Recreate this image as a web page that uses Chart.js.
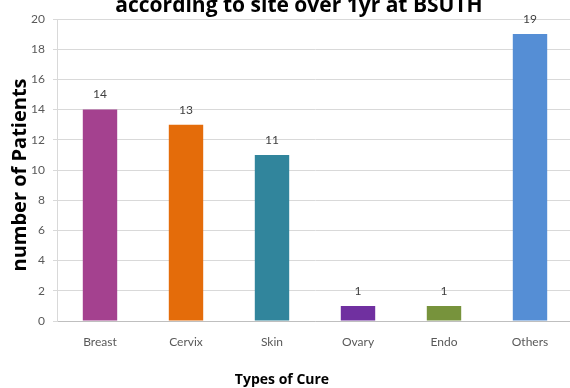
<!DOCTYPE html>
<html>
<head>
<meta charset="utf-8">
<script src="https://cdn.jsdelivr.net/npm/chart.js@4.4.1/dist/chart.umd.min.js"></script>
<style>
  html, body { margin: 0; padding: 0; background: #ffffff; overflow: hidden; }
  #wrap { position: relative; width: 576px; height: 388px; }
</style>
</head>
<body>
<div id="wrap"><canvas id="chart"></canvas></div>
<script>
// Patients per cancer site
const categories = ['Breast', 'Cervix', 'Skin', 'Ovary', 'Endo', 'Others'];
const patients = [14, 13, 11, 1, 1, 19];
const barColors = ['#A4418F', '#E46C0A', '#31859C', '#7030A0', '#77933C', '#558ED5'];
const yTicks = [0, 2, 4, 6, 8, 10, 12, 14, 16, 18, 20];

const chartTitle = 'according to site over 1yr at BSUTH';
const xTitle = 'Types of Cure';
const yTitle = 'number of Patients';

// Value labels above each bar
const valueLabels = {
  id: 'valueLabels',
  afterDatasetsDraw(chart) {
    const ctx = chart.ctx;
    const meta = chart.getDatasetMeta(0);
    ctx.save();
    ctx.font = '12px Lato';
    ctx.fillStyle = '#404040';
    ctx.textAlign = 'center';
    ctx.textBaseline = 'middle';
    meta.data.forEach((bar, i) => {
      ctx.fillText(String(chart.data.datasets[0].data[i]), bar.x, bar.y - 15);
    });
    ctx.restore();
  }
};

// Chart heading and both axis captions
const captions = {
  id: 'captions',
  afterDraw(chart) {
    const ctx = chart.ctx;
    ctx.save();
    ctx.fillStyle = '#000000';
    ctx.textAlign = 'center';
    ctx.textBaseline = 'alphabetic';
    ctx.font = 'bold 21px "Open Sans"';
    ctx.fillText(chartTitle, 299, 12);
    ctx.font = 'bold 14px "Open Sans"';
    ctx.textBaseline = 'middle';
    ctx.fillText(xTitle, 282, 380);
    ctx.translate(20, 175);
    ctx.rotate(-Math.PI / 2);
    ctx.font = 'bold 20px "Open Sans"';
    ctx.fillText(yTitle, 0, 0);
    ctx.restore();
  }
};

new Chart(document.getElementById('chart'), {
  type: 'bar',
  data: {
    labels: categories,
    datasets: [{
      data: patients,
      backgroundColor: barColors,
      borderWidth: 0,
      categoryPercentage: 1.0,
      barPercentage: 0.4
    }]
  },
  options: {
    responsive: true,
    maintainAspectRatio: false,
    animation: false,
    devicePixelRatio: 1,
    layout: { padding: { top: 19, right: 3, left: 0, bottom: 0 } },
    plugins: {
      legend: { display: false },
      title: { display: false },
      tooltip: { enabled: false }
    },
    scales: {
      x: {
        grid: { display: false, drawTicks: false },
        border: { display: true, color: '#BFBFBF', width: 1 },
        ticks: {
          color: '#595959',
          font: { family: 'Lato', size: 12 },
          padding: 14
        },
        afterFit(scale) { scale.height = 67; }
      },
      y: {
        min: 0,
        max: 20,
        afterBuildTicks(scale) { scale.ticks = yTicks.map(v => ({ value: v })); },
        grid: { color: '#D9D9D9', lineWidth: 1, tickLength: 4 },
        border: { display: true, color: '#D9D9D9', width: 1 },
        ticks: {
          color: '#595959',
          font: { family: 'Lato', size: 12 },
          padding: 8
        },
        afterFit(scale) { scale.width = 57; }
      }
    }
  },
  plugins: [valueLabels, captions]
});
</script>
</body>
</html>
